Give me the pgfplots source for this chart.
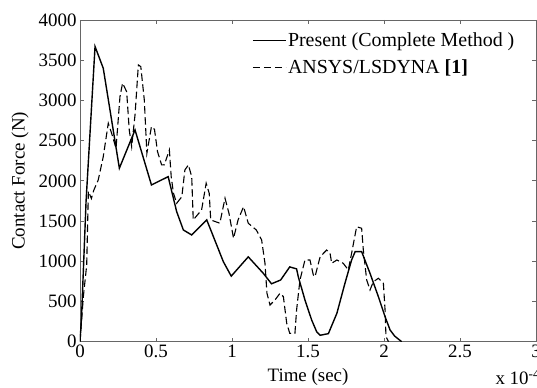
\documentclass[border=0pt]{standalone}
\usepackage{fontspec}
\setmainfont{Liberation Serif}
\usepackage{pgfplots}
\pgfplotsset{compat=1.18}
\begin{document}
\begin{tikzpicture}
\begin{axis}[name=ax, scale only axis, width=456bp, height=321.7bp,
  xmin=0, xmax=3, ymin=0, ymax=4000,
  xtick={0,0.5,1,1.5,2,2.5,3}, ytick={0,500,...,4000},
  scaled ticks=false,
  /pgf/number format/assume math mode=true,
  /pgf/number format/1000 sep={},
  tick align=inside, major tick length=4bp,
  axis line style={gray!80!black, line width=0.8bp},
  tick style={gray!80!black, line width=0.7bp},
  ticklabel style={font=\fontsize{19}{22}\selectfont, black},
  xlabel={Time (sec)}, ylabel={Contact Force (N)},
  label style={font=\fontsize{19}{22}\selectfont},
  xlabel style={at={(axis description cs:0.5,0)}, anchor=base, yshift=-39.5bp},
  ylabel style={at={(axis description cs:-0.1316,0.5)}, anchor=center},
  legend cell align=left,
  legend style={draw=none, fill=none, at={(axis description cs:0.377,0.965)}, anchor=north west,
    font=\fontsize{20}{23}\selectfont, inner sep=0pt, row sep=8.5bp, nodes={inner sep=1.5bp}},
  legend image code/.code={\draw[#1] (0bp,0bp) -- (33bp,0bp);},
]
\addplot[black, line width=1.4bp] coordinates {
(0,0) (0.01,300) (0.04,1750) (0.099,3670) (0.153,3400) (0.259,2157) (0.362,2633)
(0.47,1949) (0.58,2052) (0.636,1617) (0.68,1389) (0.735,1327) (0.834,1514)
(0.943,995) (0.995,815) (1.107,1055) (1.206,850) (1.26,720) (1.32,767) (1.38,930)
(1.425,905) (1.436,808) (1.48,519) (1.524,270) (1.557,124) (1.58,80) (1.634,100)
(1.69,353) (1.743,726) (1.787,1016) (1.81,1119) (1.853,1119) (1.908,850) (1.963,560)
(2.007,311) (2.04,145) (2.07,70) (2.116,0)
};
\addlegendentry{Present (Complete Method )}
\addplot[black, line width=1.1bp, dash pattern=on 7.5bp off 3.5bp] coordinates {
(0,0) (0.022,560) (0.044,950) (0.055,1870) (0.075,1780) (0.09,1880) (0.12,2011)
(0.153,2300) (0.186,2716) (0.208,2592) (0.237,2405) (0.263,3047) (0.28,3214)
(0.307,3109) (0.324,2633) (0.34,2425) (0.362,2820) (0.384,3441) (0.40,3420)
(0.423,3006) (0.44,2343) (0.47,2674) (0.49,2640) (0.51,2363) (0.537,2198) (0.555,2200)
(0.588,2384) (0.60,2052) (0.615,1846) (0.636,1721) (0.67,1803) (0.69,2135) (0.713,2198)
(0.735,2052) (0.745,1514) (0.8,1638) (0.83,1970) (0.85,1846) (0.86,1514) (0.92,1473)
(0.954,1784) (0.98,1597) (1.01,1286) (1.04,1514) (1.076,1679) (1.107,1473) (1.16,1389)
(1.195,1265) (1.217,975) (1.23,602) (1.25,456) (1.283,519) (1.316,602) (1.338,560)
(1.36,229) (1.38,104) (1.414,104) (1.425,394) (1.447,767) (1.48,1016) (1.513,1016)
(1.535,830) (1.546,808) (1.58,1057) (1.623,1140) (1.645,1100) (1.656,975) (1.69,1016)
(1.732,975) (1.765,892) (1.787,1100) (1.82,1430) (1.853,1410) (1.864,1140) (1.886,767)
(1.908,643) (1.93,746) (1.963,788) (1.996,726) (2.007,394) (2.013,62) (2.03,0)
};
\addlegendentry{ANSYS/LSDYNA \textbf{[1]}}
\end{axis}
\node[anchor=base west, font=\fontsize{19}{22}\selectfont] at ([xshift=-44bp,yshift=-43.3bp]ax.south east) {x 10\textsuperscript{-4}};
\pgfresetboundingbox
\path[use as bounding box] ([xshift=-80bp,yshift=-46.3bp]ax.south west) rectangle ([xshift=1bp,yshift=20bp]ax.north east);
\end{tikzpicture}
\end{document}
